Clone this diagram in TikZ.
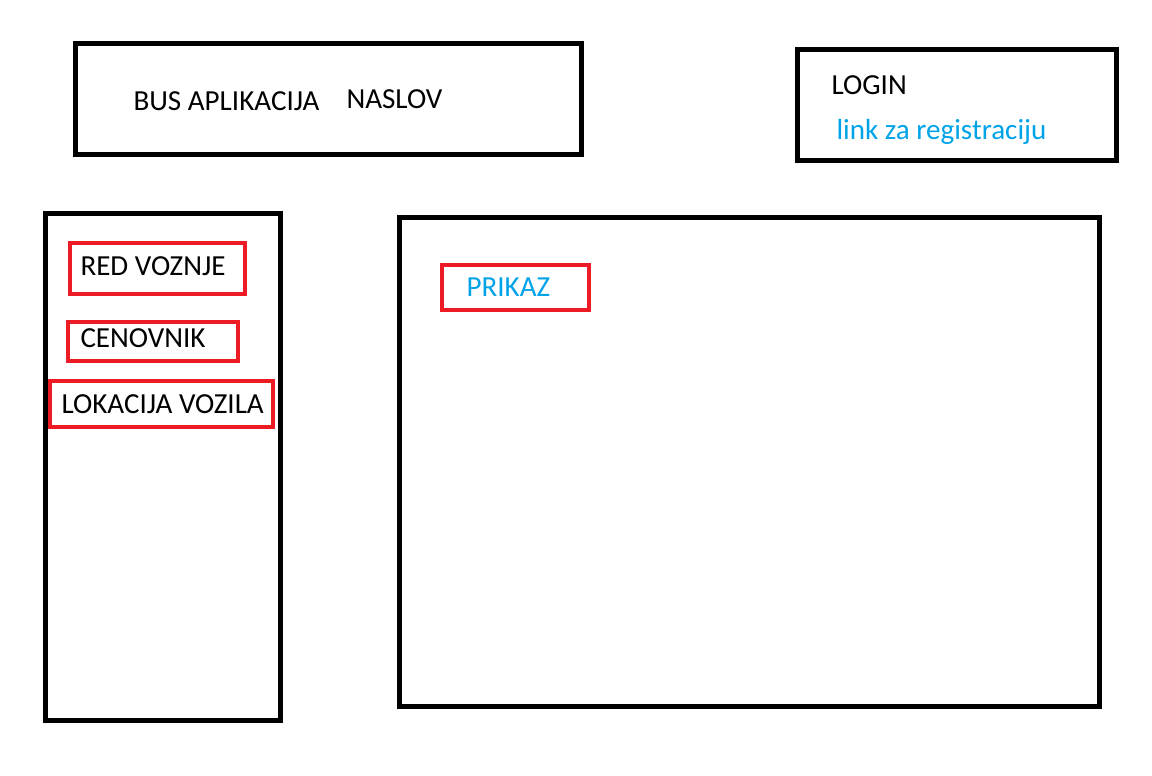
\documentclass[tikz,border=0pt]{standalone}
\usepackage{fontspec}
\setmainfont{Carlito}
\definecolor{paintred}{RGB}{237,28,36}
\definecolor{paintblue}{RGB}{0,162,232}
\tikzset{every picture/.style={line width=0.75pt}}
\tikzset{
  frame/.style={draw=black, line width=3.75pt},
  redframe/.style={draw=paintred, line width=3pt},
  label/.style={anchor=base west, inner sep=0pt, font=\fontsize{21.8}{26}\selectfont},
  linklabel/.style={label, text=paintblue}
}

\begin{document}
\begin{tikzpicture}[x=0.75pt,y=0.75pt,yscale=-1,xscale=1]
\useasboundingbox (0,0) rectangle (1152,775);

%Shape: Rectangle (header)
\draw [frame] (75,43) rectangle (581,154);
%Shape: Rectangle (login)
\draw [frame] (797,49) rectangle (1116,160);
%Shape: Rectangle (menu)
\draw [frame] (45,213) rectangle (280,720);
%Shape: Rectangle (content)
\draw [frame] (399,217) rectangle (1099,706);

%Shape: Rectangle (menu items)
\draw [redframe] (70,243) rectangle (245,294);
\draw [redframe] (68,322) rectangle (238,361);
\draw [redframe] (50,381) rectangle (273,427);
%Shape: Rectangle (prikaz)
\draw [redframe] (442,265) rectangle (589,310);

% Text Node
\node [label] (busapp) at (133,110) {BUS APLIKACIJA};
% Text Node
\node [label] (naslov) at (346,108) {NASLOV};
% Text Node
\node [label] (login) at (831,94) {LOGIN};
% Text Node
\node [linklabel] (registracija) at (836,139) {link za registraciju};
% Text Node
\node [label] (redvoznje) at (80,275) {RED VOZNJE};
% Text Node
\node [label] (cenovnik) at (80,347) {CENOVNIK};
% Text Node
\node [label] (lokacija) at (61,413) {LOKACIJA VOZILA};
% Text Node
\node [linklabel] (prikaz) at (466,296) {PRIKAZ};

\end{tikzpicture}
\end{document}
